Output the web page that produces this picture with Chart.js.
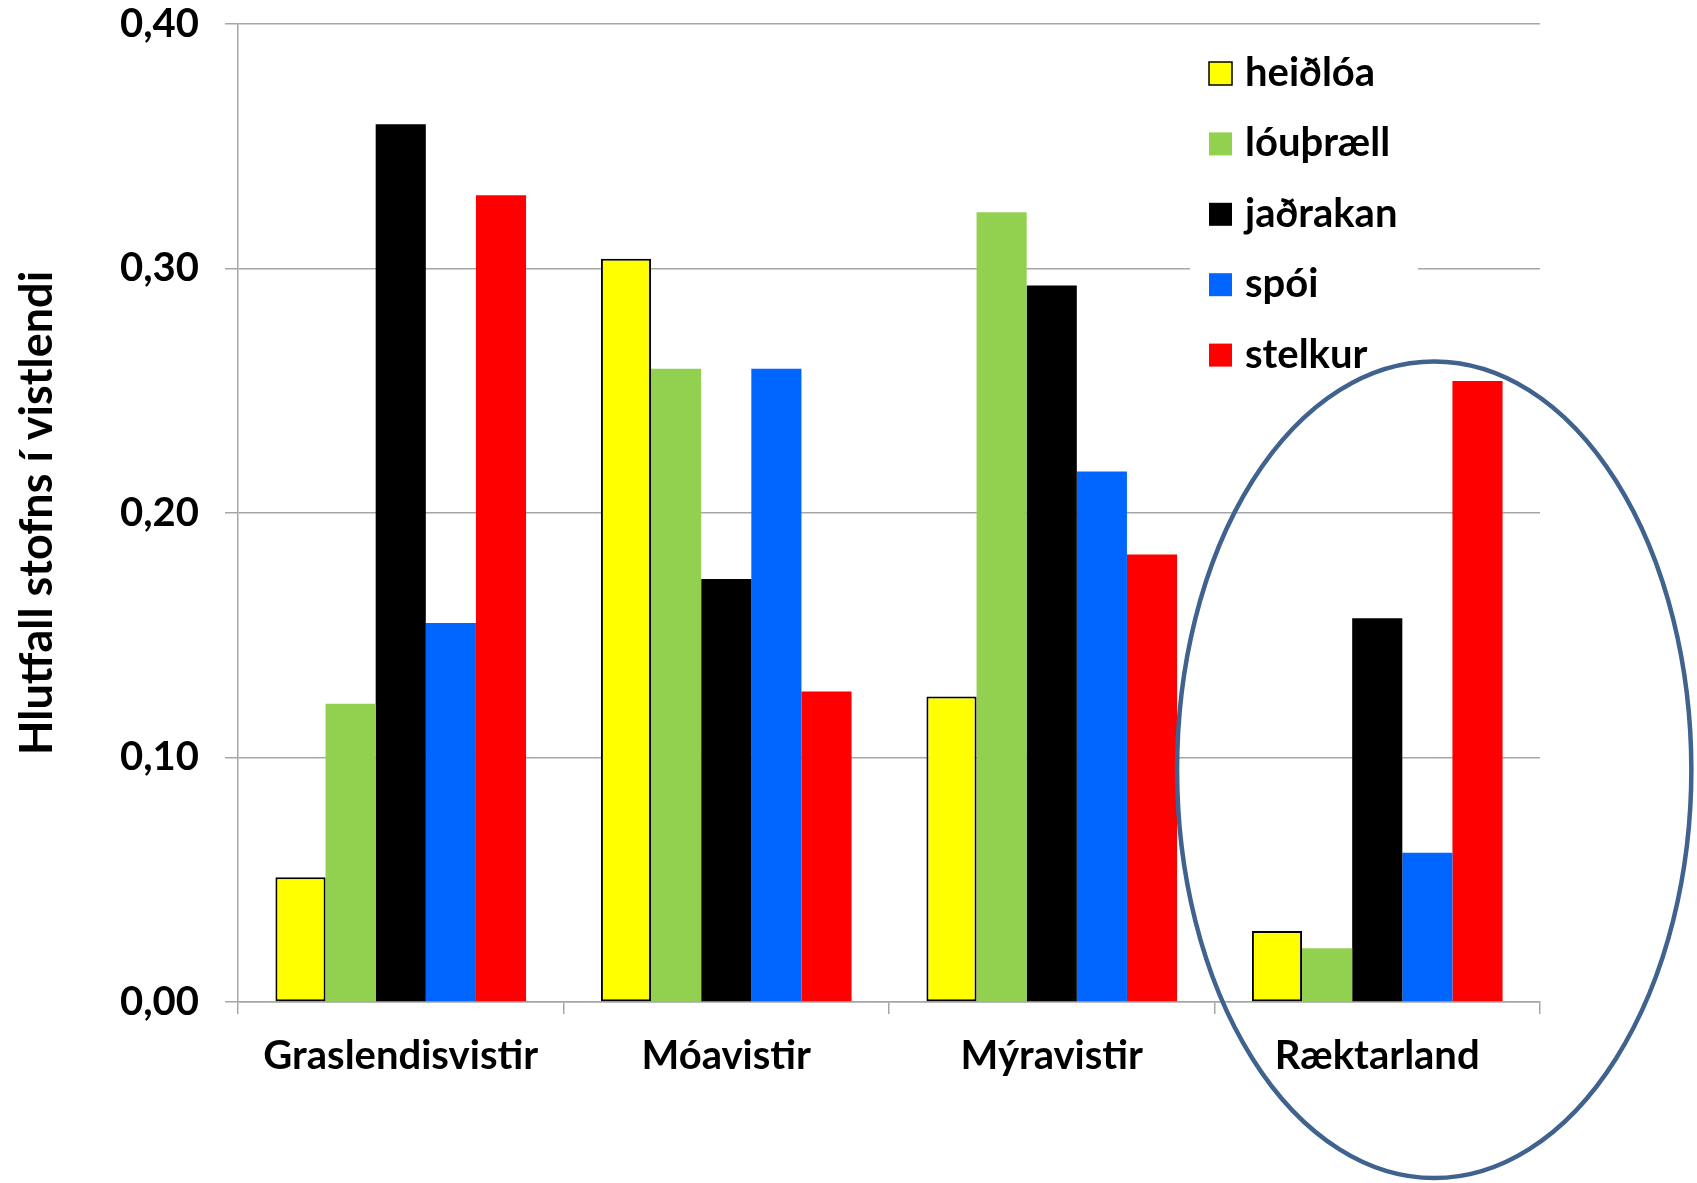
<!DOCTYPE html>
<html lang="is">
<head>
    <meta charset="UTF-8">
    <title>Hlutfall stofns í vistlendi</title>
    <script src="https://cdn.jsdelivr.net/npm/chart.js"></script>
    <style>
        body { margin: 0; background: #fff; }
        #wrap { width: 1697px; height: 1183px; }
    </style>
</head>
<body>
    <div id="wrap">
        <canvas id="grafVistlendi" width="1697" height="1183"></canvas>
    </div>

    <script>
        // Gögn lesin af myndinni
        const categories = ['Graslendisvistir', 'Móavistir', 'Mýravistir', 'Ræktarland'];
        const species = ['heiðlóa', 'lóuþræll', 'jaðrakan', 'spói', 'stelkur'];
        const heidloa = [0.051, 0.304, 0.125, 0.029];
        const louthraell = [0.122, 0.259, 0.323, 0.022];
        const jadrakan = [0.359, 0.173, 0.293, 0.157];
        const spoi = [0.155, 0.259, 0.217, 0.061];
        const stelkur = [0.330, 0.127, 0.183, 0.254];
        const yTicks = [0, 0.1, 0.2, 0.3, 0.4];

        const colors = ['#ffff00', '#92d050', '#000000', '#0066ff', '#ff0000'];
        const gridColor = '#a6a6a6';
        const font = 'Lato';

        Chart.defaults.font.family = font;
        Chart.defaults.font.weight = 'bold';
        Chart.defaults.color = '#000';

        const series = [heidloa, louthraell, jadrakan, spoi, stelkur];

        // Skýringar (legend) inni í teiknisvæðinu
        const legendPlugin = {
            id: 'innriSkyring',
            afterDatasetsDraw(chart) {
                const ctx = chart.ctx;
                ctx.save();
                ctx.fillStyle = '#fff';
                ctx.fillRect(1190, 38, 228, 342);
                chart.data.datasets.forEach((ds, i) => {
                    const y = 73 + i * 70.4;
                    ctx.fillStyle = ds.backgroundColor;
                    ctx.fillRect(1209, y - 11, 23, 23);
                    if (ds.borderWidth) {
                        ctx.strokeStyle = '#000';
                        ctx.lineWidth = 1.5;
                        ctx.strokeRect(1209, y - 11, 23, 23);
                    }
                    ctx.fillStyle = '#000';
                    ctx.font = 'bold 40px ' + font;
                    ctx.textBaseline = 'middle';
                    ctx.fillText(ds.label, 1245, y);
                });
                ctx.restore();
            }
        };

        // Sporöskja utan um Ræktarland
        const ellipsePlugin = {
            id: 'sporoskja',
            afterDraw(chart) {
                const x = chart.scales.x, y = chart.scales.y;
                const catW = x.getPixelForValue(1) - x.getPixelForValue(0);
                const cx = x.getPixelForValue(3) + 0.175 * catW;
                const cy = y.getPixelForValue(0.095);
                const rx = 0.79 * catW;
                const ry = y.getPixelForValue(0) - y.getPixelForValue(0.167);
                const ctx = chart.ctx;
                ctx.save();
                ctx.beginPath();
                ctx.ellipse(cx, cy, rx, ry, 0, 0, Math.PI * 2);
                ctx.strokeStyle = '#3f628e';
                ctx.lineWidth = 4.5;
                ctx.stroke();
                ctx.restore();
            }
        };

        const ctx = document.getElementById('grafVistlendi').getContext('2d');
        new Chart(ctx, {
            type: 'bar',
            data: {
                labels: categories,
                datasets: series.map((d, i) => ({
                    label: species[i],
                    data: d,
                    backgroundColor: colors[i],
                    borderColor: '#000',
                    borderWidth: i === 0 ? 2 : 0,
                    borderSkipped: false,
                    categoryPercentage: 0.77,
                    barPercentage: 1.0
                }))
            },
            options: {
                responsive: false,
                animation: false,
                layout: { padding: { top: 24, right: 157, bottom: 0, left: 0 } },
                plugins: {
                    legend: { display: false },
                    tooltip: { enabled: false }
                },
                scales: {
                    x: {
                        grid: {
                            display: true,
                            drawOnChartArea: false,
                            drawTicks: true,
                            tickLength: 12,
                            color: gridColor,
                            lineWidth: 1.5
                        },
                        border: { color: gridColor, width: 1.5 },
                        ticks: {
                            font: { size: 40, weight: 'bold' },
                            padding: 18,
                            maxRotation: 0
                        },
                        afterFit(scale) { scale.height = 181; }
                    },
                    y: {
                        min: 0,
                        max: 0.4,
                        afterBuildTicks(scale) {
                            scale.ticks = yTicks.map(v => ({ value: v }));
                        },
                        grid: {
                            color: gridColor,
                            lineWidth: 1.5,
                            drawTicks: true,
                            tickLength: 13
                        },
                        border: { color: gridColor, width: 1.5 },
                        ticks: {
                            font: { size: 40, weight: 'bold' },
                            padding: 26,
                            callback: v => v.toFixed(2).replace('.', ',')
                        },
                        title: {
                            display: true,
                            text: 'Hlutfall stofns í vistlendi',
                            font: { size: 45, weight: 'bold' },
                            padding: { top: 10, bottom: 0 }
                        },
                        afterFit(scale) {
                            scale.width = 238;
                            scale.paddingTop = 0;
                            scale.paddingBottom = 0;
                        }
                    }
                }
            },
            plugins: [legendPlugin, ellipsePlugin]
        });
    </script>
</body>
</html>
